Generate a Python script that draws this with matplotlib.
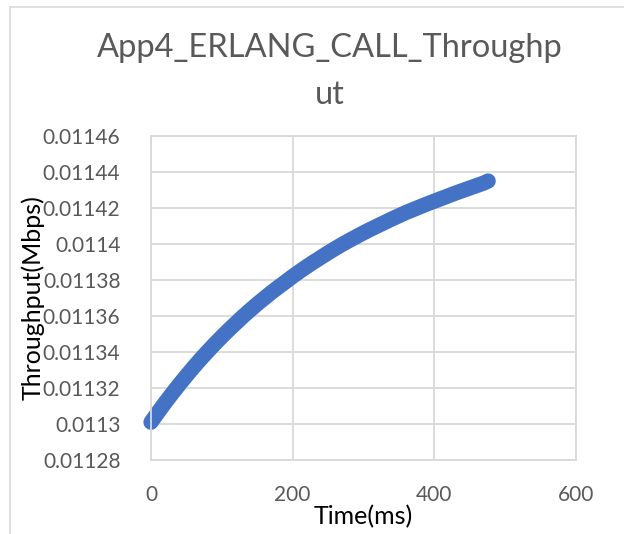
import matplotlib
matplotlib.use('Agg')
import matplotlib.pyplot as plt
from matplotlib.patches import Rectangle
from matplotlib.ticker import FixedLocator, FixedFormatter

# data
time_ms = [0, 10, 20, 30, 40, 50, 60, 70, 80, 90,
           100, 110, 120, 130, 140, 150, 160, 170, 180, 190,
           200, 210, 220, 230, 240, 250, 260, 270, 280, 290,
           300, 310, 320, 330, 340, 350, 360, 370, 380, 390,
           400, 410, 420, 430, 440, 450, 460, 470, 476]
throughput = [0.0113010, 0.0113065, 0.0113119, 0.0113170, 0.0113220, 0.0113268,
              0.0113315, 0.0113360, 0.0113403, 0.0113445, 0.0113485, 0.0113524,
              0.0113561, 0.0113598, 0.0113633, 0.0113667, 0.0113699, 0.0113731,
              0.0113761, 0.0113790, 0.0113820, 0.0113848, 0.0113875, 0.0113901,
              0.0113926, 0.0113951, 0.0113975, 0.0113998, 0.0114020, 0.0114041,
              0.0114062, 0.0114082, 0.0114101, 0.0114120, 0.0114139, 0.0114157,
              0.0114175, 0.0114191, 0.0114207, 0.0114223, 0.0114238, 0.0114253,
              0.0114268, 0.0114283, 0.0114297, 0.0114311, 0.0114325, 0.0114339,
              0.0114350]

y_ticks = [0.01128, 0.0113, 0.01132, 0.01134, 0.01136, 0.01138,
           0.0114, 0.01142, 0.01144, 0.01146]
y_labels = ['0.01128', '0.0113', '0.01132', '0.01134', '0.01136', '0.01138',
            '0.0114', '0.01142', '0.01144', '0.01146']
x_ticks = [0, 200, 400, 600]

plt.rcParams['font.family'] = ['Lato', 'DejaVu Sans']

fig = plt.figure(figsize=(6.24, 5.34), dpi=100)
# chart area border (cut off at right and bottom in the reference)
fig.patches.append(Rectangle((9.5 / 624, -0.1), 1.0, (534 - 7) / 534 + 0.1,
                             transform=fig.transFigure, fill=False,
                             edgecolor='#d9d9d9', linewidth=1.2))

ax = fig.add_axes([151 / 624, 74 / 534, 425 / 624, 324 / 534])
# dense excel markers drawn as a thick round-capped trace
ax.plot(time_ms, throughput, linestyle='-', linewidth=11, color='#4472C4',
        solid_capstyle='round', solid_joinstyle='round', clip_on=False)

ax.set_xlim(0, 600)
ax.set_ylim(0.01128, 0.01146)
ax.xaxis.set_major_locator(FixedLocator(x_ticks))
ax.yaxis.set_major_locator(FixedLocator(y_ticks))
ax.yaxis.set_major_formatter(FixedFormatter(y_labels))
ax.grid(True, color='#d9d9d9', linewidth=1.3)
ax.set_axisbelow(True)
for s in ax.spines.values():
    s.set_color('#d9d9d9')
    s.set_linewidth(1.3)
ax.tick_params(length=0, labelsize=15, labelcolor='#595959')
ax.tick_params(axis='x', pad=18)
ax.tick_params(axis='y', pad=22)

ax.set_xlabel('Time(ms)', fontsize=18, labelpad=0)
ax.set_ylabel('Throughput(Mbps)', fontsize=18, labelpad=-1)

fig.text(330 / 624, (534 - 48) / 534, 'App4_ERLANG_CALL_Throughp',
         ha='center', va='center', fontsize=23.5, color='#595959')
fig.text(330 / 624, (534 - 95) / 534, 'ut',
         ha='center', va='center', fontsize=23.5, color='#595959')

fig.savefig('out.png', dpi=100)
